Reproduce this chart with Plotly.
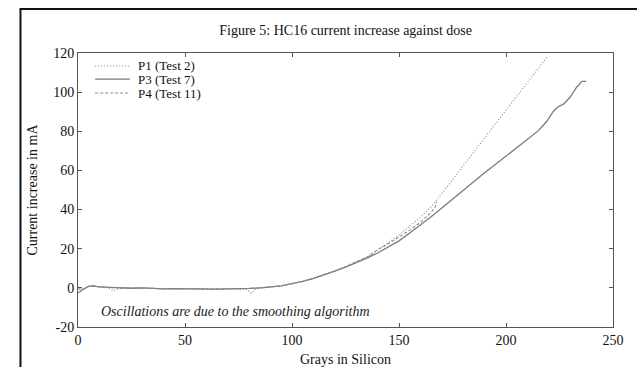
import plotly.graph_objects as go

# ---------------- data ----------------
p1_x = [0, 1, 2, 3, 5, 7, 10, 14, 17, 19, 22, 25, 30, 35, 40, 45, 50, 55, 60, 65, 70, 75, 79, 81, 83, 86, 90, 95, 100,
        105, 110, 115, 120, 125, 130, 135, 138, 140, 145, 150, 155, 160, 165, 170, 175, 180, 185, 190, 195, 200,
        205, 210, 215, 219.5]
p1_y = [0.5, -0.5, -1.0, -0.3, 0.8, 1.0, 0.5, 0.0, -1.5, -0.5, 0.0, -0.2, 0.0, -0.3, -0.5, -0.4, -0.5, -0.6, -0.6,
        -0.6, -0.5, -0.5, -0.8, -2.7, -0.6, -0.1, 0.3, 1.0, 2.2,
        3.3, 4.8, 6.6, 8.6, 10.8, 13.3, 15.6, 17.5, 19.5, 23.0, 27.0, 31.5, 36.0, 41.5, 48.0, 55.0, 62.5, 69.5, 76.5,
        83.5, 91.0, 98.0, 105.0, 112.0, 118.5]

p3_x = [0, 1, 2, 3, 5, 7, 10, 15, 20, 25, 30, 35, 40, 45, 50, 55, 60, 65, 70, 75, 80, 85, 90, 95, 100, 105, 110, 115,
        120, 125, 130, 135, 140, 145, 150, 155, 160, 165, 170, 175, 180, 185, 190, 195, 200, 205, 210, 215, 219, 222,
        224, 227, 230, 233, 235.5, 237.5]
p3_y = [-2.5, -2.0, -1.0, -0.3, 0.8, 1.0, 0.5, 0.2, 0.0, -0.2, 0.0, -0.3, -0.5, -0.4, -0.5, -0.6, -0.6, -0.6, -0.5,
        -0.5, -0.3, 0.0, 0.4, 1.0, 2.2, 3.3, 4.8, 6.6,
        8.6, 10.6, 12.8, 15.2, 17.8, 20.7, 24.0, 28.0, 32.0, 36.3, 40.8, 45.4, 50.0, 54.5, 58.8, 63.0, 67.2, 71.4,
        75.7, 80.2, 85.0, 90.0, 92.3, 94.0, 97.5, 102.5, 105.5, 105.5]

p4_x = [0, 1, 2, 3, 5, 7, 10, 15, 20, 25, 30, 35, 40, 45, 50, 55, 60, 65, 70, 75, 80, 85, 90, 95, 100, 105, 110, 115,
        120, 125, 130, 135, 140, 145, 150, 155, 160, 165, 167, 167.5]
p4_y = [0.0, -1.0, -0.8, -0.2, 0.8, 1.0, 0.5, 0.2, 0.0, -0.2, 0.0, -0.3, -0.5, -0.4, -0.5, -0.6, -0.6, -0.6, -0.5,
        -0.5, -0.3, 0.0, 0.4, 1.0, 2.2, 3.3, 4.8, 6.6,
        8.6, 10.8, 13.3, 15.6, 19.5, 22.5, 26.0, 29.5, 33.5, 38.5, 41.5, 44.0]

series_names = ["P1 (Test 2)", "P3 (Test 7)", "P4 (Test 11)"]
x_ticks = [0, 50, 100, 150, 200, 250]
y_ticks = [-20, 0, 20, 40, 60, 80, 100, 120]
y_tick_text = ["-20", "0", "20", "40", "60", "80", "100", "120"]

title_text = "Figure 5: HC16 current increase against dose"
x_title = "Grays in Silicon"
y_title = "Current increase in mA"
note_text = "Oscillations are due to the smoothing algorithm"

# ---------------- styles ----------------
SERIF = "Times New Roman, Liberation Serif, Times, serif"
FS = 14
styles = [
    dict(color="#8a8a8a", width=1.1, dash="1px,2px"),
    dict(color="#7a7a7a", width=1.3, dash="solid"),
    dict(color="#8a8a8a", width=1.1, dash="3px,2px"),
]

fig = go.Figure()
for name, xs, ys, st in zip(series_names, [p1_x, p3_x, p4_x], [p1_y, p3_y, p4_y], styles):
    fig.add_trace(go.Scatter(x=xs, y=ys, mode="lines", name=name, line=st, showlegend=False))

axis_common = dict(showgrid=False, zeroline=False, showline=True, linecolor="#555555", linewidth=1,
                   mirror="allticks", ticks="inside", ticklen=4, tickcolor="#555555", automargin=False,
                   tickfont=dict(family=SERIF, size=FS, color="#111111"))

fig.update_xaxes(range=[0, 250], tickvals=x_ticks, **axis_common,
                 title=dict(text=x_title, font=dict(family=SERIF, size=FS, color="#111111"), standoff=11))
fig.update_yaxes(range=[-20, 120], tickvals=y_ticks, ticktext=y_tick_text, **axis_common,
                 title=dict(text=y_title, font=dict(family=SERIF, size=FS, color="#111111"), standoff=12))

# manual legend (compact rows as in reference)
leg_rows = [0.9526, 0.905, 0.854]
shapes = []
annotations = []
for name, st, yy in zip(series_names, styles, leg_rows):
    shapes.append(dict(type="line", xref="paper", yref="paper", x0=0.032, x1=0.097, y0=yy, y1=yy,
                       line=dict(color=st["color"], width=st["width"], dash=st["dash"])))
    annotations.append(dict(xref="paper", yref="paper", x=0.108, y=yy, text=name, showarrow=False,
                            xanchor="left", yanchor="middle",
                            font=dict(family=SERIF, size=13, color="#111111")))

# outer frame (extends past the right/bottom edge)
shapes.append(dict(type="rect", xref="paper", yref="paper", x0=-0.1075, x1=1.06, y0=-0.2, y1=1.1606,
                   line=dict(color="#111111", width=2), fillcolor="rgba(0,0,0,0)", layer="above"))

annotations.append(dict(xref="paper", yref="paper", x=0.04, y=0.058, text="<i>" + note_text + "</i>",
                        showarrow=False, xanchor="left", yanchor="middle",
                        font=dict(family=SERIF, size=FS, color="#222222")))

fig.update_layout(
    width=637, height=367,
    margin=dict(l=78, r=24, t=53, b=40, autoexpand=False),
    paper_bgcolor="white", plot_bgcolor="white",
    title=dict(text=title_text, x=0.5426, xanchor="center", y=0.918, yanchor="middle",
               font=dict(family=SERIF, size=FS, color="#111111")),
    shapes=shapes, annotations=annotations,
    showlegend=False,
)

fig.write_html("out.html", config={"displayModeBar": False},
               post_script="document.body.style.margin='0';document.body.style.overflow='hidden';")
